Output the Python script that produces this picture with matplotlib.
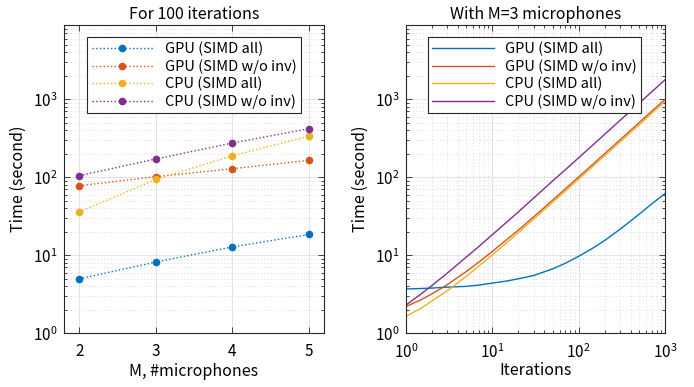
import numpy as np
import matplotlib
matplotlib.use("Agg")
import matplotlib.pyplot as plt
from matplotlib.ticker import LogLocator, NullFormatter

plt.rcParams['font.family'] = ['Noto Sans CJK JP', 'DejaVu Sans']
plt.rcParams['mathtext.fontset'] = 'custom'
plt.rcParams['mathtext.rm'] = 'Noto Sans CJK JP'
plt.rcParams['axes.unicode_minus'] = False

# series names and MATLAB default colours
labels = ['GPU (SIMD all)', 'GPU (SIMD w/o inv)', 'CPU (SIMD all)', 'CPU (SIMD w/o inv)']
colors = ['#0072BD', '#D95319', '#EDB120', '#7E2F8E']

# left panel: time for 100 iterations vs number of microphones
mics = [2, 3, 4, 5]
t_gpu_all = [5.0, 8.2, 12.8, 18.5]
t_gpu_noinv = [78, 102, 129, 165]
t_cpu_all = [36, 94, 189, 336]
t_cpu_noinv = [105, 172, 275, 420]

# right panel: time vs iterations for M=3
iters = [1, 1.5, 2, 3, 5, 7, 10, 15, 20, 30, 50, 70, 100, 150, 200, 300, 500, 700, 1000]
r_gpu_all = [3.7, 3.75, 3.8, 3.9, 4.0, 4.15, 4.4, 4.7, 5.0, 5.5, 6.7, 7.9, 9.7, 12.6, 15.5, 21.5, 33.5, 45.5, 62]
r_gpu_noinv = [2.2, 2.7, 3.2, 4.2, 6.2, 8.2, 11.2, 16.2, 21, 31, 51, 71, 101, 151, 201, 301, 501, 701, 1000]
r_cpu_all = [1.65, 2.1, 2.6, 3.5, 5.4, 7.3, 10.1, 14.8, 19.5, 29, 48, 66.5, 95, 142, 189, 283, 471, 659, 940]
r_cpu_noinv = [2.3, 3.2, 4.1, 5.9, 9.5, 13, 18.4, 27.2, 36, 54, 90, 125, 178, 267, 356, 535, 890, 1245, 1780]

left_series = [t_gpu_all, t_gpu_noinv, t_cpu_all, t_cpu_noinv]
right_series = [r_gpu_all, r_gpu_noinv, r_cpu_all, r_cpu_noinv]

fs_tick = 11
fs_lab = 11.5
fs_leg = 10.5
axcol = '0.15'

fig = plt.figure(figsize=(6.94, 3.87), dpi=100)
ax1 = fig.add_axes([0.0922, 0.1388, 0.3746, 0.7967])
ax2 = fig.add_axes([0.585, 0.1388, 0.3732, 0.7967])


def style_axes(ax):
    for s in ax.spines.values():
        s.set_color(axcol)
        s.set_linewidth(0.8)
    ax.tick_params(which='both', direction='in', top=True, right=True,
                   colors=axcol, labelcolor='black', labelsize=fs_tick, width=0.6)
    ax.tick_params(which='major', length=4)
    ax.tick_params(which='minor', length=2.5)
    ax.tick_params(axis='x', which='both', pad=7)
    ax.tick_params(axis='y', which='both', pad=5)
    ax.grid(True, which='major', color='#e3e3e3', linewidth=0.7, linestyle='-')
    ax.grid(True, which='minor', color='#cfcfcf', linewidth=0.6, linestyle=(0, (1, 3)))
    ax.set_axisbelow(True)


def add_legend(ax, xc):
    leg = ax.legend(loc='upper center', bbox_to_anchor=(xc, 0.96), fontsize=fs_leg,
                    fancybox=False, edgecolor=axcol, framealpha=1, handlelength=4.2,
                    borderpad=0.3, labelspacing=0.2, borderaxespad=0)
    leg.get_frame().set_linewidth(0.8)


for y, c, lab in zip(left_series, colors, labels):
    ax1.plot(mics, y, linestyle=':', color=c, marker='o', markersize=4.5,
             linewidth=1.0, label=lab)
ax1.set_yscale('log')
ax1.set_xlim(1.8, 5.2)
ax1.set_ylim(1, 9000)
ax1.set_xticks(mics)
ax1.yaxis.set_major_locator(LogLocator(base=10, numticks=10))
ax1.yaxis.set_minor_locator(LogLocator(base=10, subs=np.arange(2, 10), numticks=10))
ax1.yaxis.set_minor_formatter(NullFormatter())
ax1.set_yticks([1, 10, 100, 1000])
style_axes(ax1)
ax1.xaxis.grid(False, which='minor')
ax1.set_title('For 100 iterations', fontsize=fs_lab, pad=4)
ax1.set_xlabel('M, #microphones', fontsize=fs_lab, labelpad=2)
ax1.set_ylabel('Time (second)', fontsize=fs_lab)
add_legend(ax1, 0.5)

for y, c, lab in zip(right_series, colors, labels):
    ax2.plot(iters, y, color=c, linewidth=1.0, label=lab)
ax2.set_xscale('log')
ax2.set_yscale('log')
ax2.set_xlim(1, 1000)
ax2.set_ylim(1, 9000)
for axis in (ax2.xaxis, ax2.yaxis):
    axis.set_major_locator(LogLocator(base=10, numticks=10))
    axis.set_minor_locator(LogLocator(base=10, subs=np.arange(2, 10), numticks=10))
    axis.set_minor_formatter(NullFormatter())
ax2.set_yticks([1, 10, 100, 1000])
ax2.set_xticks([1, 10, 100, 1000])
style_axes(ax2)
ax2.set_title('With M=3 microphones', fontsize=fs_lab, pad=4)
ax2.set_xlabel('Iterations', fontsize=fs_lab, labelpad=0)
ax2.set_ylabel('Time (second)', fontsize=fs_lab)
add_legend(ax2, 0.497)

fig.savefig('out.png', dpi=100)
